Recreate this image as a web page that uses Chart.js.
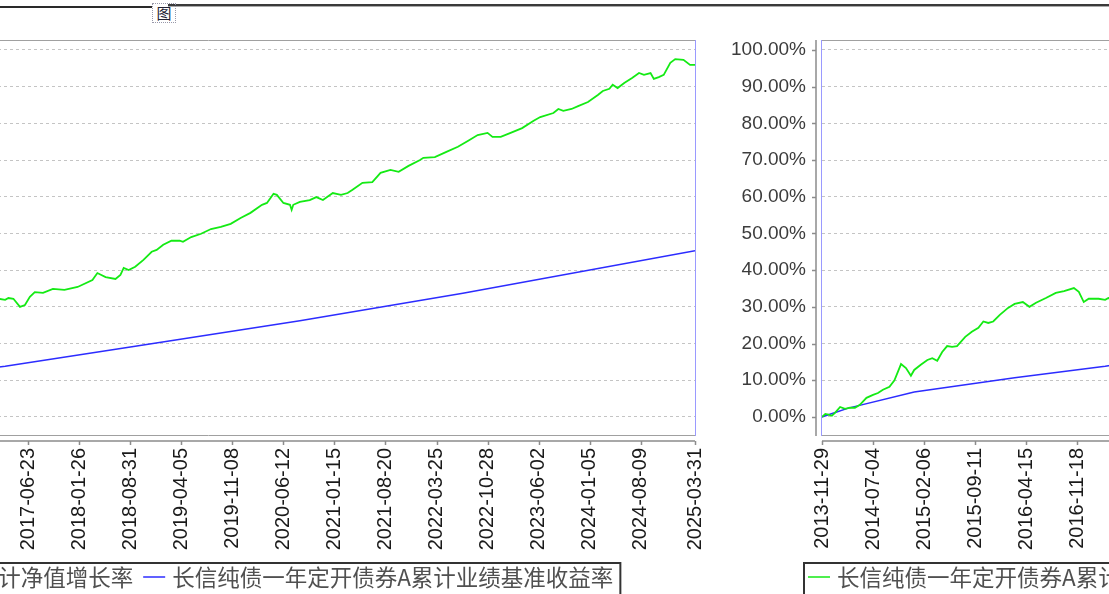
<!DOCTYPE html>
<html>
<head>
<meta charset="utf-8">
<script src="https://cdn.jsdelivr.net/npm/chart.js@4.4.1/dist/chart.umd.min.js"></script>
<style>
  html, body { margin: 0; padding: 0; background: #fff; }
  body { width: 1109px; height: 594px; overflow: hidden; position: relative; }
  .copy { position: absolute; top: 0; width: 1110px; height: 594px; }
  #lineA { position: absolute; left: 0; top: 6px; width: 152px; height: 2px; background: #2a2a2a; }
  #lineB { position: absolute; left: 168px; top: 4px; width: 941px; height: 2px; background: #3a3a3a; border-bottom: 1px solid #aaa; }
  #icon { position: absolute; left: 152px; top: 3px; width: 22px; height: 18px; border: 1px dotted #99a; font: 15px "Noto Sans CJK SC"; line-height: 18px; text-align: center; color: #223; }
</style>
</head>
<body>
<div id="lineA"></div>
<div id="lineB"></div>
<span id="icon">图</span>
<div class="copy" style="left:-400px"><canvas id="chartLeft"></canvas></div>
<div class="copy" style="left:700px"><canvas id="chartRight"></canvas></div>
<script>
// weekly index since 2013-11-29
const tickWeeks = [0, 31, 62, 93, 124, 155, 186, 217, 248, 279, 310, 341, 372, 403, 434, 465, 496, 527, 558, 591];
const tickLabels = ['2013-11-29', '2014-07-04', '2015-02-06', '2015-09-11', '2016-04-15', '2016-11-18',
    '2017-06-23', '2018-01-26', '2018-08-31', '2019-04-05', '2019-11-08', '2020-06-12', '2021-01-15',
    '2021-08-20', '2022-03-25', '2022-10-28', '2023-06-02', '2024-01-05', '2024-08-09', '2025-03-31'];
const yTicks = [0, 10, 20, 30, 40, 50, 60, 70, 80, 90, 100];

const seriesNames = ['长信纯债一年定开债券A累计净值增长率', '长信纯债一年定开债券A累计业绩基准收益率'];

// 累计净值增长率 (%)
const navWeeks = [0, 2, 4, 6, 8, 11, 14, 17, 20, 23, 27, 31, 34, 37, 41, 44, 48, 51, 54, 56, 60, 64, 67, 70, 73, 76, 79, 82,
    87, 91, 95, 98, 101, 104, 108, 113, 117, 122, 126, 130, 136, 142, 147, 153, 156, 159, 162, 168, 172,
    174, 177, 181, 184, 187, 190, 195, 201, 208, 216, 225, 228, 233, 239, 242, 244, 247, 251, 256, 261, 264, 268,
    273, 278, 280, 285, 291, 297, 303, 309, 315, 321, 328, 331, 335, 337, 341, 345, 346, 347, 351, 357, 361, 365,
    371, 376, 380, 383, 389, 395, 400, 406, 411, 417, 424, 426, 433, 440, 447, 453, 459, 465, 468, 473, 479, 486,
    493, 497, 505, 508, 511, 516, 520, 526, 532, 535, 539, 541, 544, 548, 553, 557, 560, 564, 566, 569, 572, 576,
    579, 584, 588, 591];
const navValues = [0.0, 0.8, 0.6, 0.3, 1.2, 2.7, 2.2, 2.5, 2.5, 3.3, 5.2, 6.0, 6.5, 7.4, 8.2, 10.0, 14.4, 13.3, 11.2, 12.8, 14.2, 15.5, 16.0, 15.3, 17.7, 19.3, 19.1, 19.3,
    21.8, 23.2, 24.3, 26.0, 25.6, 26.0, 27.8, 29.7, 30.8, 31.3, 30.0, 31.1, 32.4, 33.8, 34.3, 35.1, 34.1, 31.3, 32.2, 32.2, 31.9,
    32.4, 32.2, 30.0, 30.5, 32.7, 34.0, 33.8, 34.9, 34.6, 35.4, 37.3, 39.2, 38.1, 37.6, 38.7, 40.6, 40.0, 40.9, 42.8, 45.0, 45.5, 46.9,
    48.0, 48.0, 47.7, 49.0, 49.9, 51.2, 51.8, 52.6, 54.2, 55.6, 57.8, 58.3, 60.8, 60.5, 58.3, 57.8, 56.4, 57.8, 58.6, 59.1, 59.9, 59.1,
    61.0, 60.5, 61.0, 61.9, 63.8, 64.0, 66.5, 67.3, 66.8, 68.4, 70.0, 70.6, 70.8, 72.2, 73.6, 75.2, 76.8, 77.4, 76.3, 76.3, 77.4, 78.7,
    80.7, 81.7, 82.8, 83.9, 83.4, 83.9, 84.7, 85.8, 87.7, 88.8, 89.4, 90.5, 89.6, 91.0, 92.4, 93.7, 93.2, 93.7, 92.1, 92.6, 93.2, 96.5,
    97.5, 97.3, 95.9, 95.9];

// 累计业绩基准收益率 (%)
const benchWeeks = [0, 16, 56, 117, 172, 250, 351, 450, 591];
const benchValues = [0.0, 2.4, 6.8, 10.7, 13.8, 19.2, 26.2, 33.7, 45.3];

const toPoints = (xs, ys) => xs.map((x, i) => ({ x: x, y: ys[i] }));

// plot frame, offset axes, legend box
const framePlugin = {
    id: 'frame',
    afterDraw(chart) {
        const { ctx, chartArea: a, scales } = chart;
        ctx.save();
        ctx.lineWidth = 1;
        ctx.strokeStyle = '#a0a0a0';
        ctx.beginPath();
        ctx.moveTo(a.left, a.top + 0.5); ctx.lineTo(a.right, a.top + 0.5);
        ctx.moveTo(a.left, a.bottom - 0.5); ctx.lineTo(a.right, a.bottom - 0.5);
        ctx.stroke();
        ctx.strokeStyle = '#9a9aff';
        ctx.beginPath();
        ctx.moveTo(a.left - 0.5, a.top); ctx.lineTo(a.left - 0.5, a.bottom);
        ctx.moveTo(a.right + 0.5, a.top); ctx.lineTo(a.right + 0.5, a.bottom);
        ctx.stroke();

        // axis lines
        ctx.strokeStyle = '#8c8c8c';
        ctx.lineWidth = 1.5;
        const ax = a.left - 6, ay = a.bottom + 5;
        ctx.beginPath();
        ctx.moveTo(ax, a.top); ctx.lineTo(ax, a.bottom);
        scales.y.ticks.forEach(t => {
            const p = Math.round(scales.y.getPixelForValue(t.value)) + 0.5;
            ctx.moveTo(ax, p); ctx.lineTo(ax - 4, p);
        });
        ctx.moveTo(a.left, ay); ctx.lineTo(a.right, ay);
        scales.x.ticks.forEach(t => {
            const p = Math.round(scales.x.getPixelForValue(t.value)) + 0.5;
            ctx.moveTo(p, ay); ctx.lineTo(p, ay + 4);
        });
        ctx.stroke();

        // legend
        ctx.font = '22.5px "Noto Sans CJK SC"';
        ctx.textBaseline = 'middle';
        const ly = 577;
        let x = a.left + 15;
        chart.data.datasets.forEach((ds, i) => {
            if (i > 0) x += 39;
            ctx.strokeStyle = ds.borderColor;
            ctx.lineWidth = 1.5;
            ctx.beginPath();
            ctx.moveTo(x - 29, ly); ctx.lineTo(x - 7, ly);
            ctx.stroke();
            ctx.fillStyle = '#505050';
            ctx.fillText(ds.label, x, ly);
            x += ctx.measureText(ds.label).width;
        });
        ctx.strokeStyle = '#333';
        ctx.lineWidth = 2;
        ctx.strokeRect(a.left - 18, 563, x + 7 - (a.left - 18), 40);
        ctx.restore();
    }
};

function makeChart(id) {
    const ctx = document.getElementById(id).getContext('2d');
    return new Chart(ctx, {
        type: 'line',
        data: {
            datasets: [{
                label: seriesNames[0],
                data: toPoints(navWeeks, navValues),
                borderColor: '#14ea14',
                borderWidth: 1.8,
                pointRadius: 0,
                fill: false
            }, {
                label: seriesNames[1],
                data: toPoints(benchWeeks, benchValues),
                borderColor: '#2c2cff',
                borderWidth: 1.5,
                pointRadius: 0,
                fill: false
            }]
        },
        options: {
            responsive: true,
            maintainAspectRatio: false,
            animation: false,
            layout: { padding: { top: 40, right: 15, left: 0, bottom: 0 } },
            plugins: { legend: { display: false }, tooltip: { enabled: false } },
            scales: {
                x: {
                    type: 'linear',
                    min: 0,
                    max: 591,
                    afterBuildTicks: s => { s.ticks = tickWeeks.map(v => ({ value: v })); },
                    afterFit: s => { s.height = 158; s.paddingLeft = 0; s.paddingRight = 0; },
                    grid: { display: false, drawTicks: false },
                    border: { display: false },
                    ticks: {
                        autoSkip: false,
                        minRotation: 90,
                        maxRotation: 90,
                        padding: 12,
                        color: '#1a1a1a',
                        font: { family: 'Liberation Sans', size: 20 },
                        callback: (v, i) => tickLabels[i]
                    }
                },
                y: {
                    min: -5.2,
                    max: 102.7,
                    afterBuildTicks: s => { s.ticks = yTicks.map(v => ({ value: v })); },
                    afterFit: s => { s.width = 122; s.paddingTop = 0; s.paddingBottom = 0; },
                    grid: { color: '#c4c4c4', lineWidth: 1, drawTicks: false },
                    border: { display: false, dash: [3, 3] },
                    ticks: {
                        padding: 16,
                        color: '#3c3c3c',
                        font: { family: 'Liberation Sans', size: 19 },
                        callback: v => v.toFixed(2) + '%'
                    }
                }
            }
        },
        plugins: [framePlugin]
    });
}

makeChart('chartLeft');
makeChart('chartRight');
</script>
</body>
</html>
